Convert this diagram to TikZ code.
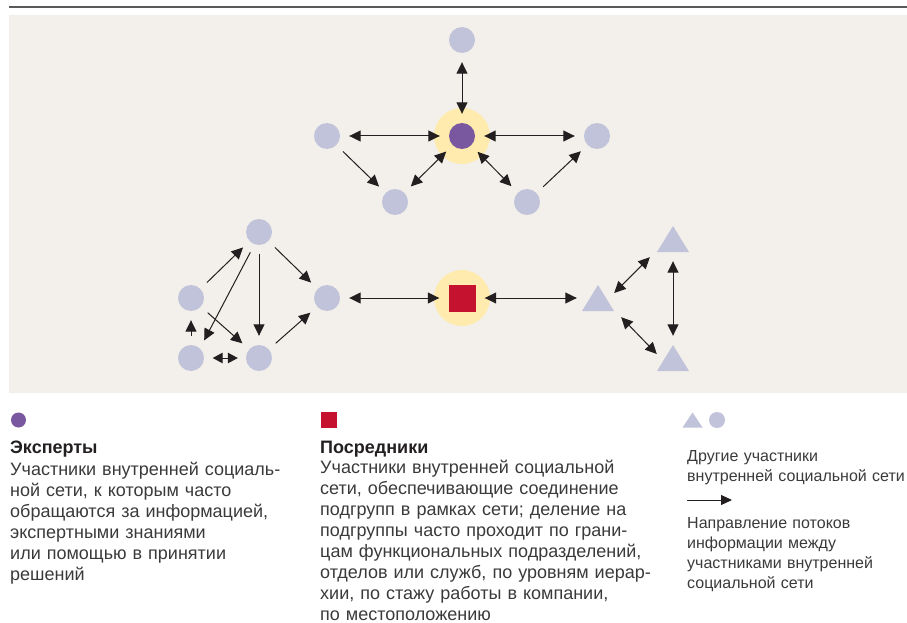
\documentclass[tikz,border=0pt]{standalone}
\usepackage{fontspec}
\setmainfont{Liberation Sans}
\usetikzlibrary{arrows.meta}
\definecolor{bgc}{HTML}{F3F0EB}
\definecolor{nodec}{HTML}{C0C3D9}
\definecolor{purp}{HTML}{7A58A0}
\definecolor{haloc}{HTML}{FEEBAD}
\definecolor{redc}{HTML}{C4122F}
\definecolor{arrc}{HTML}{231F20}
\definecolor{txtc}{HTML}{3A3A3A}
\definecolor{rulec}{HTML}{5A5A5A}
\tikzset{
  pnode/.style={circle, fill=nodec, minimum size=26pt, inner sep=0pt},
  expert/.style={circle, fill=purp, minimum size=26pt, inner sep=0pt},
  halo/.style={circle, fill=haloc, minimum size=56pt, inner sep=0pt},
  broker/.style={rectangle, fill=redc, minimum size=27pt, inner sep=0pt},
  tri/.style={rectangle, minimum width=32pt, minimum height=26pt, inner sep=0pt,
    path picture={\fill[nodec] (path picture bounding box.south west) -- (path picture bounding box.south east) -- (path picture bounding box.north) -- cycle;}},
  tip/.tip={Triangle[length=11.5pt,width=11pt]},
  stip/.tip={Triangle[length=10pt,width=10.5pt]},
  one/.style={-tip, line width=1pt, draw=arrc, shorten >=9pt, shorten <=9pt},
  two/.style={tip-tip, line width=1pt, draw=arrc, shorten >=9pt, shorten <=9pt},
  twos/.style={stip-stip, line width=1pt, draw=arrc, shorten >=8pt, shorten <=8.5pt},
  twoz/.style={tip-tip, line width=1pt, draw=arrc},
  head/.style={anchor=base west, inner sep=0pt, font=\fontsize{18}{21}\selectfont\bfseries, text=arrc},
  body/.style={anchor=base west, inner sep=0pt, align=left, text width=420pt, font=\fontsize{18}{21}\selectfont, text=txtc},
  bodys/.style={anchor=base west, inner sep=0pt, align=left, text width=230pt, font=\fontsize{16}{20.2}\selectfont, text=txtc},
}
\begin{document}
\begin{tikzpicture}[x=1pt,y=-1pt]
\useasboundingbox (0,0) rectangle (907,623);
\coordinate (r0) at (9,7);
\coordinate (r1) at (907,7);
\draw[line width=1.6pt, rulec] (r0) -- (r1);
\fill[bgc] (9,15) rectangle (907,393);

% top network
\node[halo] (eh) at (462,136) {};
\node[expert] (exp) at (462,136) {};
\node[pnode] (t0) at (462,40) {};
\node[pnode] (l1) at (327,136) {};
\node[pnode] (r1n) at (597,136) {};
\node[pnode] (b1) at (395,202) {};
\node[pnode] (b2) at (527,202) {};
\draw[two] (t0) -- (exp);
\draw[two] (l1) -- (exp);
\draw[two] (exp) -- (r1n);
\draw[two] (exp) -- (b1);
\draw[two] (exp) -- (b2);
\draw[one] (l1) -- (b1);
\draw[one] (b2) -- (r1n);

% bottom cluster
\node[pnode] (ct) at (259,232) {};
\node[pnode] (cl) at (191,298) {};
\node[pnode] (cr) at (327,298) {};
\node[pnode] (cbl) at (191,358) {};
\node[pnode] (cbm) at (259,358) {};
\draw[one] (cl) -- (ct);
\draw[one] (ct.250) -- (cbl.47);
\draw[one] (ct) -- (cbm);
\draw[one] (ct) -- (cr);
\draw[one] (cl) -- (cbm);
\draw[one] (cbm) -- (cr);
\draw[one] (cbl) -- (cl);
\draw[twos] (cbl) -- (cbm);

% broker
\node[halo] (bh) at (462,298) {};
\node[broker] (brk) at (462,298) {};
\draw[two] (cr) -- (brk);

% triangles
\node[tri] (lt) at (598,298) {};
\node[tri] (tt) at (673,239) {};
\node[tri] (bt) at (673,358) {};
\draw[two, shorten >=5pt] (brk) -- (lt);
\draw[twoz] ([yshift=5pt]lt.east) -- ([xshift=-7pt,yshift=-5pt]tt.south west);
\draw[two] (tt) -- (bt);
\draw[twoz] ([xshift=7pt,yshift=-6pt]lt.south east) -- ([yshift=4pt]bt.west);

% legend left
\node[expert, minimum size=15pt] (lgexp) at (18.5,420) {};
\node[head] (h1) at (10,453) {Эксперты};
\node[body] (p1) at (10,475) {Участники внутренней социаль-\\ной сети, к которым часто\\обращаются за информацией,\\экспертными знаниями\\или помощью в принятии\\решений};

% legend middle
\node[broker, minimum size=16pt] (lgbrk) at (328.5,419.5) {};
\node[head] (h2) at (320,453) {Посредники};
\node[body] (p2) at (320,473.5) {Участники внутренней социальной\\сети, обеспечивающие соединение\\подгрупп в рамках сети; деление на\\подгруппы часто проходит по грани-\\цам функциональных подразделений,\\отделов или служб, по уровням иерар-\\хии, по стажу работы в компании,\\по местоположению};

% legend right
\node[tri, minimum width=20pt, minimum height=15pt] (lgtri) at (692.5,420) {};
\node[pnode, minimum size=16pt] (lgcir) at (717,420) {};
\node[bodys] (p3) at (687,461) {Другие участники\\внутренней социальной сети};
\coordinate (la0) at (687,500);
\coordinate (la1) at (732,500);
\draw[-{Triangle[length=11pt,width=10pt]}, line width=1pt, arrc] (la0) -- (la1);
\node[bodys] (p4) at (687,528) {Направление потоков\\информации между\\участниками внутренней\\социальной сети};
\end{tikzpicture}
\end{document}
